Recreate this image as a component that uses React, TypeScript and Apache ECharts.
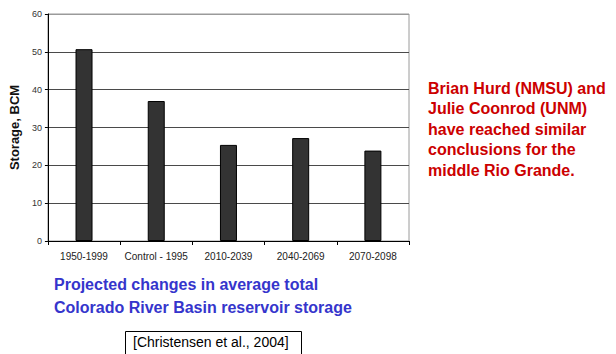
import React, { useEffect, useRef } from "react";
import * as echarts from "echarts";

// Reservoir storage by period (BCM)
const periods = ["1950-1999", "Control - 1995", "2010-2039", "2040-2069", "2070-2098"];
const storage = [50.7, 37.0, 25.4, 27.2, 23.9];
const yTicks = [0, 10, 20, 30, 40, 50, 60];

const captionLines = [
  "Projected changes in average total",
  "Colorado River Basin reservoir storage",
];
const citation = "[Christensen et al., 2004]";
const noteLines = [
  "Brian Hurd (NMSU) and",
  "Julie Coonrod (UNM)",
  "have reached similar",
  "conclusions for the",
  "middle Rio Grande.",
];

const FONT = "Liberation Sans, Arial, Helvetica, sans-serif";

export default function App() {
  const ref = useRef<HTMLDivElement>(null);

  useEffect(() => {
    if (!ref.current) return;
    const chart = echarts.init(ref.current, undefined, { renderer: "svg" });

    const gridColors = yTicks.map((t) => (t === yTicks[yTicks.length - 1] ? "#9a9a9a" : "#4a4a4a"));

    chart.setOption({
      animation: false,
      backgroundColor: "#ffffff",
      grid: {
        left: 43,
        top: 14,
        width: 366,
        height: 227,
        show: true,
        borderColor: "#9a9a9a",
        borderWidth: 1,
        backgroundColor: "transparent",
      },
      xAxis: {
        type: "category",
        data: periods,
        axisLine: { show: true, lineStyle: { color: "#000", width: 1 } },
        axisTick: { show: true, length: 4, lineStyle: { color: "#000" } },
        axisLabel: { color: "#222", fontSize: 10, fontFamily: FONT, margin: 10, interval: 0 },
        splitLine: { show: false },
      },
      yAxis: {
        type: "value",
        min: 0,
        max: 60,
        interval: 10,
        name: "Storage, BCM",
        nameLocation: "middle",
        nameRotate: 90,
        nameGap: 26,
        nameTextStyle: { fontFamily: FONT, fontSize: 13, fontWeight: "bold", color: "#111" },
        axisLine: { show: true, lineStyle: { color: "#000", width: 1 } },
        axisTick: { show: true, length: 3, inside: false, lineStyle: { color: "#000" } },
        axisLabel: { color: "#333", fontSize: 9, fontFamily: FONT, margin: 6 },
        splitLine: { show: true, lineStyle: { color: gridColors, width: 1 } },
      },
      series: [
        {
          type: "bar",
          data: storage,
          barWidth: 17,
          itemStyle: { color: "#333333", borderColor: "#000", borderWidth: 1 },
        },
      ],
      graphic: [
        ...captionLines.map((line, i) => ({
          type: "text",
          left: 54,
          top: 276 + i * 23,
          style: {
            text: line,
            fill: "#3535cc",
            font: `bold 16px ${FONT}`,
          },
        })),
        {
          type: "rect",
          shape: { x: 125.5, y: 331.5, width: 176, height: 26 },
          style: { fill: "#fff", stroke: "#000", lineWidth: 1 },
        },
        {
          type: "text",
          left: 133,
          top: 335,
          style: { text: citation, fill: "#000", font: `14px ${FONT}` },
        },
        ...noteLines.map((line, i) => ({
          type: "text",
          left: 428,
          top: 80 + i * 20.5,
          style: {
            text: line,
            fill: "#cc0000",
            font: `bold 16px ${FONT}`,
          },
        })),
      ],
    });

    return () => chart.dispose();
  }, []);

  return (
    <div
      ref={ref}
      style={{ position: "fixed", left: 0, top: 0, width: 616, height: 354, background: "#fff" }}
    />
  );
}
